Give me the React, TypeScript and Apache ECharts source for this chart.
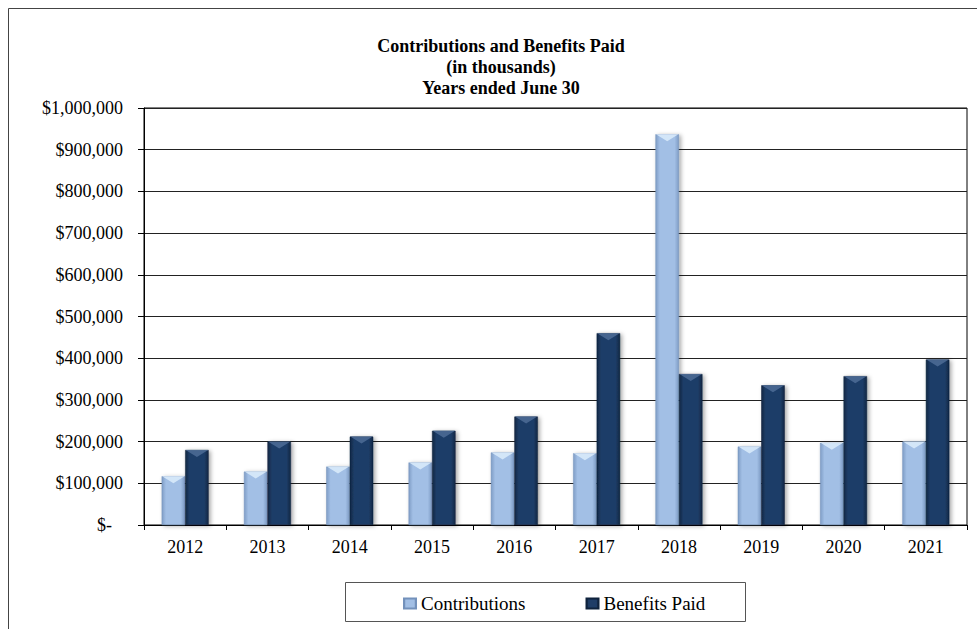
import React, { useEffect, useRef } from "react";
import * as echarts from "echarts";

// Fiscal years (ended June 30) and amounts in thousands of dollars
const years = ["2012", "2013", "2014", "2015", "2016", "2017", "2018", "2019", "2020", "2021"];
const contributions = [117000, 128000, 140000, 150000, 174000, 172000, 937000, 188000, 197000, 200000];
const benefitsPaid = [180000, 200000, 212000, 226000, 260000, 460000, 362000, 335000, 357000, 397000];

const yMin = 0;
const yMax = 1000000;
const yStep = 100000;

const FONT = "Times New Roman, Liberation Serif, DejaVu Serif, serif";
const BAR_W = 23.5;

// horizontal shading so each column looks rounded
const bevel = (edge: string, mid: string) =>
  new echarts.graphic.LinearGradient(0, 0, 1, 0, [
    { offset: 0, color: edge },
    { offset: 0.18, color: mid },
    { offset: 0.82, color: mid },
    { offset: 1, color: edge },
  ]);

const lightFill = () => bevel("#7f9dc6", "#a2bfe5");
const darkFill = () => bevel("#112744", "#1f3d67");

// lighter chevron on top of each column, positioned through the axes
const chevron = (offset: number, color: string) =>
  (params: any, api: any) => {
    const idx = api.value(0);
    const val = api.value(1);
    const top = api.coord([idx, val]);
    const cx = top[0] + offset;
    const y = top[1];
    const half = BAR_W / 2 - 0.5;
    return {
      type: "polygon",
      shape: {
        points: [
          [cx - half, y],
          [cx + half, y],
          [cx, y + 7],
        ],
      },
      style: { fill: color, opacity: 0.85 },
      silent: true,
    };
  };

export default function App() {
  const ref = useRef<HTMLDivElement>(null);

  useEffect(() => {
    if (!ref.current) return;
    const chart = echarts.init(ref.current, null, { renderer: "svg" });

    const shadow = {
      shadowBlur: 4,
      shadowOffsetX: 2,
      shadowOffsetY: 1,
      shadowColor: "rgba(0,0,0,0.35)",
    };

    chart.setOption({
      animation: false,
      backgroundColor: "#ffffff",
      textStyle: { fontFamily: FONT, color: "#000" },
      title: {
        text: "Contributions and Benefits Paid\n(in thousands)\nYears ended June 30",
        left: 496,
        top: 30,
        textAlign: "center",
        textStyle: {
          fontFamily: FONT,
          fontSize: 18,
          fontWeight: "bold",
          color: "#000",
          lineHeight: 21,
        },
      },
      legend: {
        data: ["Contributions", "Benefits Paid"],
        left: 398,
        top: 589,
        itemWidth: 12,
        itemHeight: 10,
        itemGap: 60,
        icon: "rect",
        textStyle: { fontFamily: FONT, fontSize: 19, color: "#000" },
      },
      graphic: [
        {
          type: "rect",
          z: -10,
          shape: { x: 8.5, y: 8.5, width: 1100, height: 700 },
          style: { fill: "none", stroke: "#444", lineWidth: 1 },
          silent: true,
        },
        {
          type: "rect",
          z: -10,
          shape: { x: 345.5, y: 582.5, width: 400, height: 39 },
          style: { fill: "none", stroke: "#555", lineWidth: 1 },
          silent: true,
        },
      ],
      grid: {
        left: 144,
        right: 10,
        top: 108,
        bottom: 104,
        show: true,
        borderColor: "#000",
        borderWidth: 1,
      },
      xAxis: {
        type: "category",
        data: years,
        axisLine: { lineStyle: { color: "#000", width: 1 } },
        axisTick: { show: true, length: 5, lineStyle: { color: "#000" } },
        axisLabel: { fontFamily: FONT, fontSize: 18, color: "#000", margin: 13 },
      },
      yAxis: {
        type: "value",
        min: yMin,
        max: yMax,
        interval: yStep,
        axisLine: { show: true, lineStyle: { color: "#000", width: 1 } },
        axisTick: { show: true, length: 6, lineStyle: { color: "#000" } },
        splitLine: { lineStyle: { color: "#222", width: 1 } },
        axisLabel: {
          fontFamily: FONT,
          fontSize: 18,
          color: "#000",
          margin: 21,
          formatter: (v: number) =>
            v === 0 ? "{z|$-}" : "$" + v.toLocaleString("en-US"),
          rich: {
            z: { fontFamily: FONT, fontSize: 18, color: "#000", padding: [0, 11, 0, 0] },
          },
        },
      },
      series: [
        {
          name: "Contributions",
          type: "bar",
          data: contributions,
          barWidth: BAR_W,
          barGap: "0%",
          itemStyle: { color: lightFill(), borderColor: "#7391bb", borderWidth: 0.5, ...shadow },
        },
        {
          name: "Benefits Paid",
          type: "bar",
          data: benefitsPaid,
          barWidth: BAR_W,
          barGap: "0%",
          itemStyle: { color: darkFill(), borderColor: "#0f223c", borderWidth: 0.5, ...shadow },
        },
        {
          name: "contributions-top",
          type: "custom",
          coordinateSystem: "cartesian2d",
          z: 5,
          silent: true,
          data: contributions.map((v, i) => [i, v]),
          encode: { x: 0, y: 1 },
          renderItem: chevron(-BAR_W / 2, "#dcecfc"),
        },
        {
          name: "benefits-top",
          type: "custom",
          coordinateSystem: "cartesian2d",
          z: 5,
          silent: true,
          data: benefitsPaid.map((v, i) => [i, v]),
          encode: { x: 0, y: 1 },
          renderItem: chevron(BAR_W / 2, "#4d6c97"),
        },
      ],
    });

    return () => chart.dispose();
  }, []);

  return (
    <div
      ref={ref}
      style={{ position: "fixed", left: 0, top: 0, width: 977, height: 629 }}
    />
  );
}
